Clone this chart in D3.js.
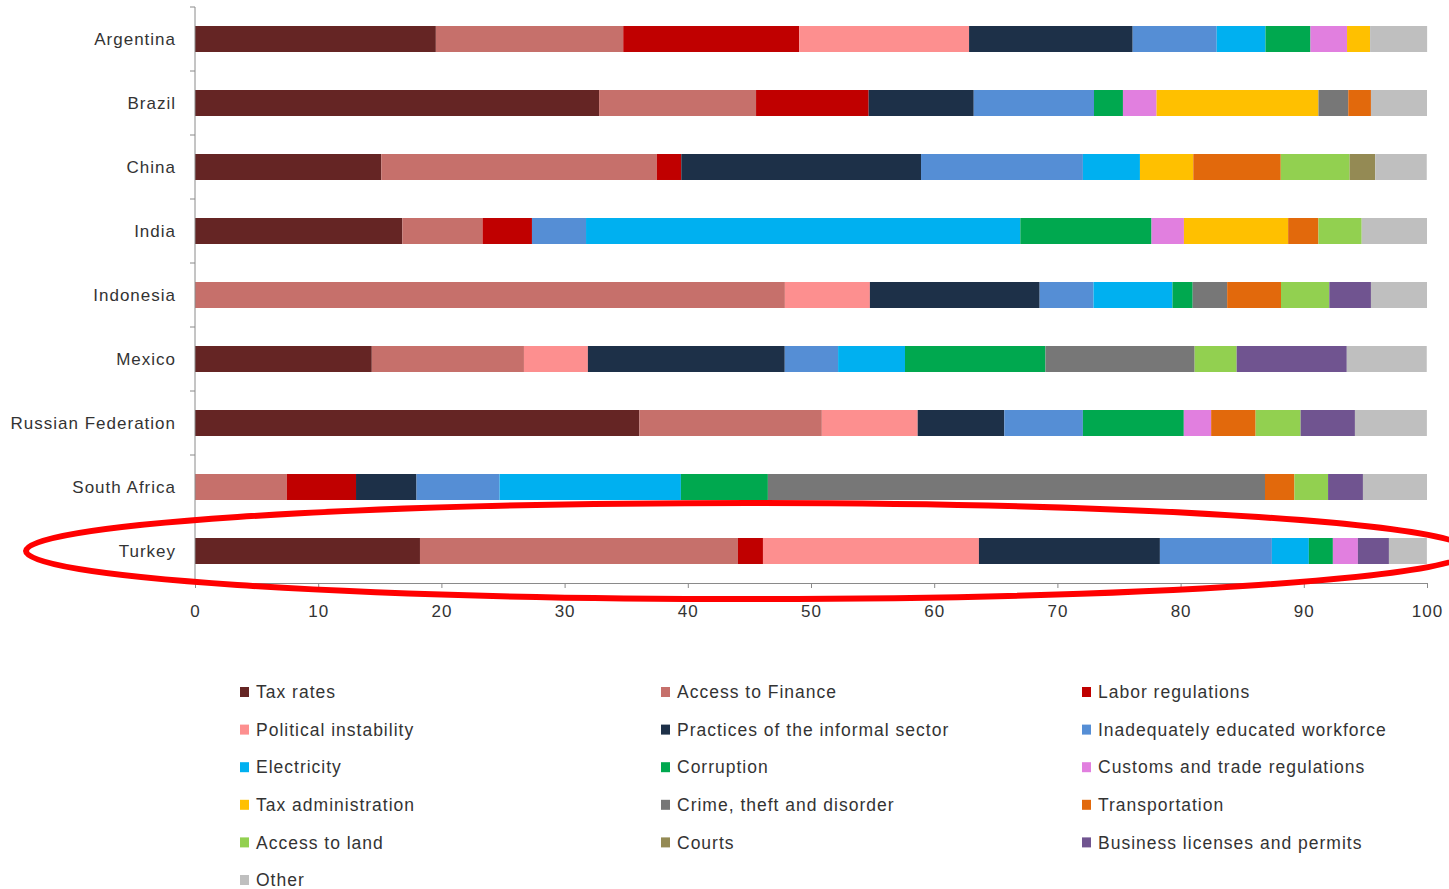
<!DOCTYPE html>
<html>
<head>
<meta charset="utf-8">
<script src="https://cdn.jsdelivr.net/npm/d3@7"></script>
<style>
  html, body { margin: 0; padding: 0; background: #fff; }
  svg { display: block; }
  text { font-family: "Liberation Sans", Arial, sans-serif; fill: #333333; }
</style>
</head>
<body>
<svg id="chart" width="1449" height="889"></svg>
<script>
// Countries, top to bottom
const countries = ["Argentina", "Brazil", "China", "India", "Indonesia", "Mexico",
  "Russian Federation", "South Africa", "Turkey"];

// Share of firms naming each obstacle (%), one value per country in the order above
const taxRates            = [19.55, 32.80, 15.12, 16.83,  0.00, 14.35, 36.07,  0.00, 18.26];
const accessToFinance     = [15.21, 12.74, 22.36,  6.51, 47.88, 12.35, 14.81,  7.45, 25.81];
const laborRegulations    = [14.28,  9.14,  1.99,  4.01,  0.00,  0.00,  0.00,  5.62,  2.03];
const politicalInstability= [13.79,  0.00,  0.00,  0.00,  6.90,  5.19,  7.78,  0.00, 17.53];
const informalSector      = [13.28,  8.53, 19.46,  0.00, 13.78, 15.98,  7.03,  4.91, 14.69];
const educatedWorkforce   = [ 6.82,  9.76, 13.14,  4.39,  4.37,  4.33,  6.38,  6.74,  9.09];
const electricity         = [ 3.96,  0.00,  4.63, 35.25,  6.41,  5.43,  0.00, 14.72,  3.00];
const corruption          = [ 3.65,  2.35,  0.00, 10.65,  1.64, 11.40,  8.19,  7.06,  1.95];
const customsTrade        = [ 2.97,  2.73,  0.00,  2.63,  0.00,  0.00,  2.22,  0.00,  2.03];
const taxAdministration   = [ 1.87, 13.14,  4.33,  8.46,  0.00,  0.00,  0.00,  0.00,  0.00];
const crimeTheft          = [ 0.00,  2.42,  0.00,  0.00,  2.80, 12.11,  0.00, 40.35,  0.00];
const transportation      = [ 0.00,  1.84,  7.10,  2.46,  4.37,  0.00,  3.61,  2.39,  0.00];
const accessToLand        = [ 0.00,  0.00,  5.59,  3.51,  3.92,  3.41,  3.65,  2.73,  0.00];
const courts              = [ 0.00,  0.00,  2.08,  0.00,  0.00,  0.00,  0.00,  0.00,  0.00];
const businessLicenses    = [ 0.00,  0.00,  0.00,  0.00,  3.38,  8.94,  4.41,  2.83,  2.52];
const other               = [ 4.63,  4.55,  4.18,  5.30,  4.55,  6.49,  5.84,  5.20,  3.08];

// Series names (stack order = legend order)
const seriesNames = ["Tax rates", "Access to Finance", "Labor regulations",
  "Political instability", "Practices of the informal sector", "Inadequately educated workforce",
  "Electricity", "Corruption", "Customs and trade regulations",
  "Tax administration", "Crime, theft and disorder", "Transportation",
  "Access to land", "Courts", "Business licenses and permits", "Other"];
const seriesValues = [taxRates, accessToFinance, laborRegulations, politicalInstability,
  informalSector, educatedWorkforce, electricity, corruption, customsTrade,
  taxAdministration, crimeTheft, transportation, accessToLand, courts, businessLicenses, other];
const seriesColors = ["#652524", "#c6706b", "#c00000", "#fd8f8f", "#1d3048", "#558ed5",
  "#00b0f0", "#00a84f", "#e17fdf", "#ffc000", "#777777", "#e2690c",
  "#92d050", "#948a54", "#705490", "#bfbfbf"];

const xTicks = [0, 10, 20, 30, 40, 50, 60, 70, 80, 90, 100];

// Table for the stack layout
const rows = countries.map((c, i) => {
  const r = { country: c };
  seriesNames.forEach((s, k) => { r[s] = seriesValues[k][i]; });
  return r;
});

const svg = d3.select("#chart");
const plot = { left: 195, right: 1427, top: 7, bottom: 583 };

const x = d3.scaleLinear().domain([0, 100]).range([plot.left, plot.right]);
const y = d3.scaleBand().domain(countries).range([plot.top, plot.bottom])
  .paddingInner(0.594).paddingOuter(0.297);

const color = d3.scaleOrdinal().domain(seriesNames).range(seriesColors);
const stacked = d3.stack().keys(seriesNames)(rows);

// Stacked bars
svg.append("g").selectAll("g")
  .data(stacked)
  .join("g")
    .attr("fill", d => color(d.key))
  .selectAll("rect")
  .data(d => d.filter(p => p[1] - p[0] > 0))
  .join("rect")
    .attr("x", d => x(d[0]))
    .attr("y", d => y(d.data.country))
    .attr("width", d => x(d[1]) - x(d[0]))
    .attr("height", y.bandwidth());

const axisColor = "#8a8a8a";

// Category axis: line, tick marks between categories, labels
const yAxis = svg.append("g");
yAxis.append("line")
  .attr("x1", plot.left).attr("x2", plot.left)
  .attr("y1", plot.top).attr("y2", plot.bottom)
  .attr("stroke", axisColor).attr("stroke-width", 1);
const step = y.step();
const boundaries = countries.map(c => y(c) - y.paddingInner() * step / 2).concat([plot.bottom]);
yAxis.selectAll("line.tick")
  .data(boundaries)
  .join("line")
    .attr("class", "tick")
    .attr("x1", plot.left - 5).attr("x2", plot.left)
    .attr("y1", d => d).attr("y2", d => d)
    .attr("stroke", axisColor);
yAxis.selectAll("text")
  .data(countries)
  .join("text")
    .attr("x", plot.left - 19)
    .attr("y", d => y(d) + y.bandwidth() / 2)
    .attr("dy", "0.35em")
    .attr("text-anchor", "end")
    .style("font-size", "17px")
    .style("letter-spacing", "1px")
    .text(d => d);

// Value axis
const xAxis = svg.append("g")
  .attr("transform", `translate(0,${plot.bottom})`)
  .call(d3.axisBottom(x).tickValues(xTicks).tickSize(5).tickPadding(17).tickSizeOuter(0));
xAxis.select(".domain").attr("stroke", axisColor);
xAxis.selectAll(".tick line").attr("stroke", axisColor);
xAxis.selectAll(".tick text")
  .attr("fill", "#333333")
  .style("font-size", "17px")
  .style("letter-spacing", "1px")
  .style("font-family", "'Liberation Sans', Arial, sans-serif");

// Legend, three columns, row-major
const legendCols = [240, 661, 1082];
const legendTop = 692;
const legendStep = 37.6;
const legend = svg.append("g").selectAll("g")
  .data(seriesNames)
  .join("g")
    .attr("transform", (d, i) =>
      `translate(${legendCols[i % 3]},${legendTop + Math.floor(i / 3) * legendStep})`);
legend.append("rect")
  .attr("x", 0).attr("y", -5)
  .attr("width", 9).attr("height", 10)
  .attr("fill", d => color(d));
legend.append("text")
  .attr("x", 16).attr("y", 0).attr("dy", "0.35em")
  .style("font-size", "17.5px")
  .style("letter-spacing", "1px")
  .text(d => d);

// Highlight ring around Turkey
const hl = countries[countries.length - 1];
svg.append("ellipse")
  .attr("cx", 748)
  .attr("cy", y(hl) + y.bandwidth() / 2)
  .attr("rx", 722)
  .attr("ry", 48)
  .attr("fill", "none")
  .attr("stroke", "#ff0000")
  .attr("stroke-width", 6);
</script>
</body>
</html>
